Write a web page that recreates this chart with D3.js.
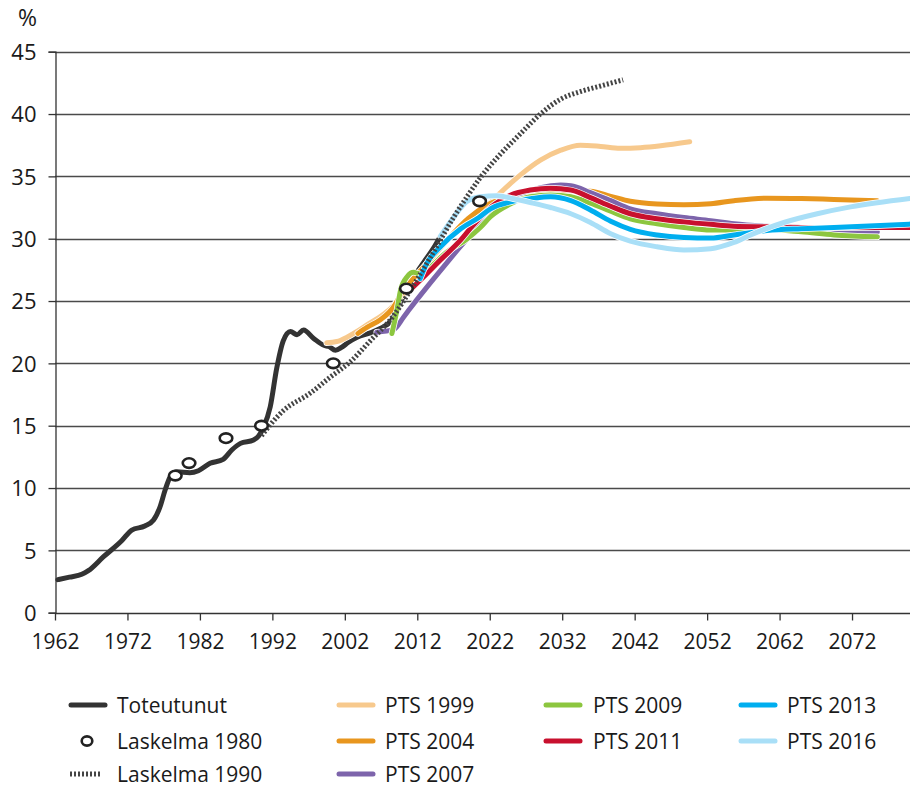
<!DOCTYPE html>
<html><head><meta charset="utf-8">
<script src="https://cdn.jsdelivr.net/npm/d3@7/dist/d3.min.js"></script>
<style>
html,body{margin:0;padding:0;background:#fff;}
svg text{font-family:"Open Sans",sans-serif;fill:#1a1a1a;}
</style></head>
<body><svg id="c" width="910" height="789"></svg>
<script>
const yTicks = [0,5,10,15,20,25,30,35,40,45];
const xTicks = [1962,1972,1982,1992,2002,2012,2022,2032,2042,2052,2062,2072];

const toteutunut = [[1962.4,2.65],[1964,2.85],[1965.7,3.08],[1966.6,3.37],[1968.7,4.49],[1971.2,5.77],[1972.6,6.63],[1974.4,6.95],[1975.6,7.43],[1976.5,8.5],[1977.2,9.84],[1977.9,10.9],[1978.8,11.3],[1980.6,11.23],[1981.8,11.39],[1983.4,11.98],[1985.2,12.3],[1986.4,13.05],[1987.6,13.58],[1989.4,13.85],[1990.1,14.17],[1990.8,14.9],[1991.7,16.5],[1992.6,19.6],[1993.5,21.8],[1994.5,22.55],[1995.4,22.3],[1996.3,22.67],[1997.7,22.0],[1999.1,21.45],[1999.8,21.35],[2000.7,21.05],[2001.6,21.3],[2002.5,21.7],[2003.7,22.1],[2005.5,22.45],[2006.9,22.8],[2008.5,23.5],[2010,25.3],[2011.5,26.9],[2013,28.2],[2014.2,29.2],[2015.2,30.2]];
const laskelma1980 = [[1978.6,11.0],[1980.5,12.0],[1985.6,14.0],[1990.5,15.0],[2000.4,20.0],[2010.5,26.0],[2020.6,33.0]];
const laskelma1990 = [[1990.5,14.2],[1993.5,16.2],[1997.2,17.6],[2000,18.9],[2002.7,20.1],[2005.5,21.8],[2008.7,23.8],[2011.5,26.3],[2013.5,28.2],[2015.2,29.9],[2017,31.7],[2018.9,33.4],[2020.7,34.9],[2023.5,36.8],[2026.2,38.4],[2029,40.0],[2031.8,41.2],[2034.5,41.8],[2037.3,42.25],[2040.4,42.75]];
const pts1999 = [[1999.5,21.65],[2000.9,21.75],[2002.3,22.1],[2003.5,22.5],[2005.1,23.1],[2007,23.8],[2008.3,24.4],[2010,25.5],[2012,27.0],[2014,28.5],[2016,29.8],[2018,31.0],[2020.7,32.1],[2023.5,33.7],[2026.2,35.1],[2029,36.3],[2031.8,37.1],[2034.5,37.5],[2037.3,37.4],[2040,37.25],[2042.8,37.3],[2045.6,37.45],[2049.6,37.77]];
const pts2004 = [[2003.8,22.4],[2005.1,22.9],[2006.9,23.5],[2008.7,24.5],[2009.7,25.5],[2011,26.5],[2013,27.8],[2016,29.8],[2019,31.6],[2022,32.8],[2025,33.5],[2028,33.8],[2030,33.9],[2033.2,33.85],[2035.9,33.8],[2038.7,33.4],[2041.4,33.0],[2045.1,32.78],[2048.8,32.72],[2052.5,32.8],[2055.7,33.05],[2060.3,33.25],[2065,33.22],[2069.5,33.15],[2075.5,33.05]];
const pts2007 = [[2006.4,22.5],[2008.7,22.7],[2010.1,23.7],[2011,24.4],[2013.3,26.1],[2015.7,27.8],[2018,29.4],[2020.3,30.9],[2023,32.4],[2026,33.5],[2029,34.1],[2031.8,34.3],[2033.2,34.25],[2035.9,33.7],[2038.7,33.05],[2041.4,32.4],[2045.1,32.0],[2048.8,31.7],[2052.5,31.45],[2055.7,31.2],[2060.3,31.0],[2065,30.9],[2069.5,30.7],[2075.5,30.55]];
const pts2009 = [[2008.5,22.4],[2009.2,24.3],[2009.7,25.9],[2010.6,26.95],[2011.5,27.3],[2012.2,27.2],[2013.5,27.6],[2016,28.9],[2018.9,30.0],[2020.7,30.9],[2022.1,31.76],[2024.9,32.8],[2027.6,33.36],[2030.4,33.5],[2033.2,33.36],[2035.9,32.85],[2038.7,32.2],[2041.4,31.6],[2045.1,31.2],[2048.8,30.9],[2052.5,30.7],[2055.7,30.7],[2060.3,30.72],[2065,30.55],[2069.5,30.3],[2075.5,30.15]];
const pts2011 = [[2011.2,26.0],[2012.9,26.95],[2015.2,28.3],[2018,29.9],[2019.3,30.8],[2022.1,32.5],[2024.9,33.5],[2027.6,33.9],[2030.4,34.05],[2033.2,33.9],[2035.9,33.3],[2038.7,32.6],[2041.4,32.0],[2045.1,31.6],[2048.8,31.35],[2052.5,31.15],[2055.7,31.0],[2060.3,30.95],[2065,30.9],[2070,30.9],[2080,30.9]];
const pts2013 = [[2012.4,26.8],[2013.3,28.0],[2015.2,29.35],[2018,30.8],[2020.5,31.7],[2022.1,32.4],[2024.9,32.96],[2027.6,33.2],[2030.4,33.36],[2033.2,33.05],[2035.9,32.3],[2038.7,31.4],[2041.4,30.75],[2045.1,30.3],[2048.8,30.1],[2052.5,30.05],[2055.7,30.3],[2060.3,30.65],[2065,30.8],[2069.5,30.9],[2080,31.17]];
const pts2016 = [[2015.2,30.2],[2017,31.7],[2018.9,33.0],[2020.7,33.36],[2023,33.45],[2025.3,33.2],[2027.6,32.9],[2030.4,32.5],[2033.2,32.0],[2035.9,31.3],[2038.7,30.4],[2041.4,29.8],[2045.1,29.35],[2048.8,29.1],[2052.5,29.2],[2055.7,29.7],[2058,30.3],[2062.6,31.3],[2067.2,32.0],[2071.8,32.55],[2080,33.23]];

const seriesNames = ["PTS 1999","PTS 2004","PTS 2007","PTS 2009","PTS 2011","PTS 2013","PTS 2016"];
const seriesColors = ["#f7c98d","#e8961e","#7d64ab","#8cc63f","#c8102e","#00aeef","#a9dff7"];
const seriesData = [pts1999,pts2004,pts2007,pts2009,pts2011,pts2013,pts2016];

const svg = d3.select("#c");
const x = d3.scaleLinear().domain([1962,2080]).range([55,910]);
const y = d3.scaleLinear().domain([0,45]).range([612.7,51.7]);

// grid
svg.append("g").selectAll("line").data(yTicks.filter(d=>d>0)).join("line")
  .attr("x1",55).attr("x2",910).attr("y1",d=>Math.round(y(d))+0.5).attr("y2",d=>Math.round(y(d))+0.5)
  .attr("stroke","#4a4a4a").attr("stroke-width",1.4);

// y axis
const yAxis = svg.append("g").attr("transform","translate(55.5,0)")
  .call(d3.axisLeft(y).tickValues(yTicks).tickSize(7).tickPadding(12).tickFormat(d3.format("d")));
yAxis.select(".domain").attr("stroke","#333").attr("stroke-width",1.3);
yAxis.selectAll(".tick line").attr("stroke","#333").attr("stroke-width",1.3);
yAxis.selectAll("text").attr("font-size",22).attr("font-family","Open Sans").attr("fill","#1a1a1a").attr("dy","0.35em");

// x axis
const xAxis = svg.append("g").attr("transform",`translate(0,${Math.round(y(0))+0.5})`)
  .call(d3.axisBottom(x).tickValues(xTicks).tickSize(7).tickPadding(14).tickFormat(d3.format("d")));
xAxis.select(".domain").attr("stroke","#333").attr("stroke-width",1.6).attr("d","M55,0H910");
xAxis.selectAll(".tick line").attr("stroke","#333").attr("stroke-width",1.3);
xAxis.selectAll("text").attr("font-size",21).attr("font-family","Open Sans").attr("fill","#1a1a1a");

svg.append("text").attr("x",18).attr("y",26).attr("font-size",23).text("%");

const line = d3.line().x(d=>x(d[0])).y(d=>y(d[1])).curve(d3.curveMonotoneX);

const plot = svg.append("g");
plot.append("path").datum(toteutunut).attr("d",line).attr("fill","none")
  .attr("stroke","#333").attr("stroke-width",5).attr("stroke-linecap","round").attr("stroke-linejoin","round");
seriesData.forEach((s,i)=>{
  plot.append("path").datum(s).attr("d",line).attr("fill","none")
    .attr("stroke","#fff").attr("stroke-width",6.5).attr("stroke-linecap","round").attr("stroke-linejoin","round");
  plot.append("path").datum(s).attr("d",line).attr("fill","none")
    .attr("stroke",seriesColors[i]).attr("stroke-width",5).attr("stroke-linecap","round").attr("stroke-linejoin","round");
});
plot.append("path").datum(laskelma1990).attr("d",line).attr("fill","none")
  .attr("stroke","#444").attr("stroke-width",5).attr("stroke-dasharray","2,2");
plot.selectAll("ellipse").data(laskelma1980).join("ellipse")
  .attr("cx",d=>x(d[0])).attr("cy",d=>y(d[1])).attr("rx",6.3).attr("ry",4.8)
  .attr("fill","#fff").attr("stroke","#222").attr("stroke-width",2.6);

// legend
const leg = svg.append("g");
const rowY = [705,741,774];
function legLine(x0,yy,color){
  leg.append("line").attr("x1",x0).attr("x2",x0+34).attr("y1",yy).attr("y2",yy)
    .attr("stroke",color).attr("stroke-width",5).attr("stroke-linecap","round");
}
function legText(x0,yy,t){
  leg.append("text").attr("x",x0).attr("y",yy).attr("dy","0.36em").attr("font-size",21).text(t);
}
legLine(71,rowY[0],"#333"); legText(117,rowY[0],"Toteutunut");
leg.append("ellipse").attr("cx",87).attr("cy",rowY[1]).attr("rx",5.3).attr("ry",4.6)
  .attr("fill","#fff").attr("stroke","#222").attr("stroke-width",2.6);
legText(117,rowY[1],"Laskelma 1980");
leg.append("line").attr("x1",70).attr("x2",102).attr("y1",rowY[2]).attr("y2",rowY[2])
  .attr("stroke","#444").attr("stroke-width",5).attr("stroke-dasharray","2,2");
legText(117,rowY[2],"Laskelma 1990");
const legPos = [[339,385,0],[339,385,1],[339,385,2],[546,593,0],[546,593,1],[741,787,0],[741,787,1]];
seriesNames.forEach((n,i)=>{
  const p = legPos[i];
  legLine(p[0],rowY[p[2]],seriesColors[i]);
  legText(p[1],rowY[p[2]],n);
});
</script></body></html>
